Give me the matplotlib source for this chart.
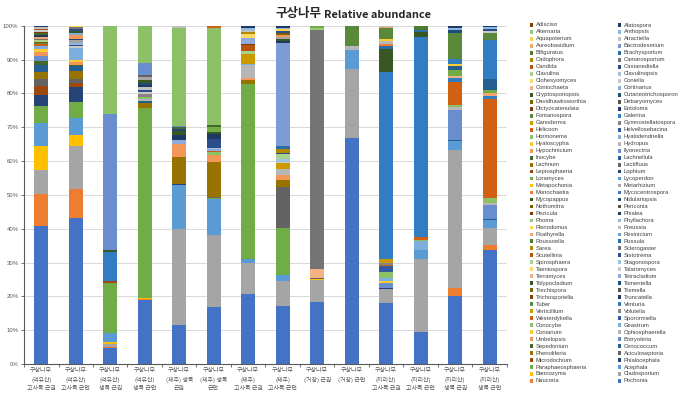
import colorsys
import numpy as np
import matplotlib
matplotlib.use("Agg")
import matplotlib.pyplot as plt
from matplotlib.patches import Rectangle
from matplotlib.ticker import FixedLocator

plt.rcParams['font.family'] = ['Noto Sans CJK KR', 'DejaVu Sans']

# ---------------- data ----------------
# series order: bottom of the stack first
genera = [
    "Pochonia", "Naucoria", "Cladosporium", "Bannozyma", "Acephala", "Paraphaeosphaeria",
    "Phialocephala", "Microdochium", "Aciculoseptoria", "Phenoliferia", "Cenococcum", "Sepedonium",
    "Botryotinia", "Umbelopsis", "Ophiosphaerella", "Coniarium", "Geastrum", "Conocybe",
    "Sporormiella", "Westerdykella", "Volutella", "Verticillium", "Venturia", "Tuber",
    "Truncatella", "Trichosporiella", "Tremella", "Trechispora", "Tomentella", "Tolypocladium",
    "Tetracladium", "Terramyces", "Talaromyces", "Taeniospora", "Stagonospora", "Spirosphaera",
    "Sistotrema", "Scutellinia", "Sclerogaster", "Sarea", "Russula", "Roussoella",
    "Resinicium", "Psathyrella", "Preussia", "Plenodomus", "Phyllachora", "Phoma",
    "Phialea", "Pezicula", "Periconia", "Nothomitra", "Nidulariopsis", "Mycopappus",
    "Mycocentrospora", "Monochaetia", "Metarhizium", "Metapochonia", "Lycoperdon", "Loramyces",
    "Lophium", "Leptosphaeria", "Lactifluus", "Lachnum", "Lachnellula", "Inocybe",
    "Ilyonectria", "Hypochnicium", "Hydropus", "Hyaloscypha", "Hyalodendriella", "Hormonema",
    "Helvellosebacina", "Helicoon", "Gymnostellatospora", "Ganoderma", "Galerina", "Fontanospora",
    "Entoloma", "Dictyocatenulata", "Debaryomyces", "Davidhawksworthia", "Cutaneotrichosporon", "Cryptosporiopsis",
    "Cortinarius", "Coniochaeta", "Coniella", "Clohesyomyces", "Clavulinopsis", "Clavulina",
    "Castanediella", "Candida", "Camarosporium", "Cadophora", "Brachysporium", "Bifiguratus",
    "Bactrodesmium", "Aureobasidium", "Atractiella", "Aquapoterium", "Anthopsis", "Alternaria",
    "Alatospora", "Adisciso",
]

sample_labels = [
    "구상나무\n(덕유산)\n고사목 근권", "구상나무\n(덕유산)\n고사목 근면",
    "구상나무\n(덕유산)\n생목 근권", "구상나무\n(덕유산)\n생목 근면",
    "구상나무\n(제주) 생목\n근권", "구상나무\n(제주) 생목\n근면",
    "구상나무\n(제주)\n고사목 근권", "구상나무\n(제주)\n고사목 근면",
    "구상나무\n(거창) 근권", "구상나무\n(거창) 근면",
    "구상나무\n(지리산)\n고사목 근권", "구상나무\n(지리산)\n고사목 근면",
    "구상나무\n(지리산)\n생목 근권", "구상나무\n(지리산)\n생목 근면",
]

deogyu_dead_rhizosphere = {
    "Pochonia": 40.8, "Naucoria": 9.5, "Cladosporium": 7.0, "Bannozyma": 7.2, "Acephala": 6.6,
    "Paraphaeosphaeria": 5.2, "Phialocephala": 3.3, "Microdochium": 2.6, "Aciculoseptoria": 2.0,
    "Phenoliferia": 2.1, "Cenococcum": 2.0, "Sepedonium": 1.2, "Botryotinia": 1.6, "Umbelopsis": 1.2,
    "Coniarium": 0.8, "Geastrum": 1.0, "Westerdykella": 0.4, "Tuber": 0.3, "Trechispora": 0.4,
    "Spirosphaera": 0.5, "Sclerogaster": 0.5, "Psathyrella": 0.5, "Phialea": 0.5, "Inocybe": 0.5,
    "Dictyocatenulata": 0.5, "Coniella": 0.5, "Candida": 0.4, "Atractiella": 0.4, "Alatospora": 0.5,
}
deogyu_dead_rhizoplane = {
    "Pochonia": 43.1, "Naucoria": 8.5, "Cladosporium": 12.6, "Bannozyma": 3.5, "Acephala": 4.9,
    "Paraphaeosphaeria": 4.8, "Phialocephala": 4.3, "Microdochium": 1.2, "Aciculoseptoria": 1.3,
    "Phenoliferia": 2.3, "Cenococcum": 1.3, "Sepedonium": 0.3, "Umbelopsis": 1.0, "Coniarium": 0.7,
    "Geastrum": 3.4, "Talaromyces": 0.6, "Sistotrema": 0.4, "Phyllachora": 0.6, "Metarhizium": 0.7,
    "Lophium": 0.5, "Hypochnicium": 1.2, "Hyalodendriella": 0.5, "Cryptosporiopsis": 0.5,
    "Castanediella": 0.6, "Camarosporium": 0.6, "Aquapoterium": 0.4,
}
deogyu_live_rhizosphere = {
    "Pochonia": 4.8, "Naucoria": 0.2, "Cladosporium": 0.8, "Bannozyma": 0.7, "Acephala": 2.6,
    "Paraphaeosphaeria": 14.9, "Microdochium": 0.5, "Venturia": 8.7, "Tolypocladium": 0.4,
    "Ilyonectria": 40.4, "Hormonema": 26.0,
}
deogyu_live_rhizoplane = {
    "Pochonia": 18.9, "Naucoria": 0.2, "Bannozyma": 0.4, "Paraphaeosphaeria": 56.2, "Phenoliferia": 1.5,
    "Cenococcum": 0.5, "Ophiosphaerella": 0.6, "Conocybe": 0.7, "Volutella": 0.7, "Talaromyces": 0.7,
    "Sistotrema": 0.7, "Preussia": 0.7, "Phialea": 0.7, "Nidulariopsis": 0.7, "Mycopappus": 0.8,
    "Metarhizium": 0.7, "Lactifluus": 0.6, "Ilyonectria": 3.8, "Hormonema": 10.9,
}
jeju_live_rhizosphere = {
    "Pochonia": 11.5, "Cladosporium": 28.3, "Acephala": 13.0, "Phialocephala": 0.3, "Phenoliferia": 8.0,
    "Umbelopsis": 3.9, "Tetracladium": 1.2, "Phialea": 1.6, "Mycopappus": 1.2, "Lophium": 0.6,
    "Inocybe": 0.4, "Ilyonectria": 0.4, "Hormonema": 28.8, "Atractiella": 0.8,
}
jeju_live_rhizoplane = {
    "Pochonia": 16.8, "Cladosporium": 21.3, "Acephala": 10.7, "Paraphaeosphaeria": 0.3,
    "Aciculoseptoria": 0.2, "Phenoliferia": 10.5, "Umbelopsis": 2.0, "Conocybe": 1.0,
    "Westerdykella": 0.2, "Tetracladium": 0.6, "Stagonospora": 0.3, "Sistotrema": 2.5, "Phialea": 1.5,
    "Mycopappus": 0.6, "Loramyces": 1.6, "Inocybe": 0.6, "Hormonema": 28.6, "Helicoon": 0.7,
}
jeju_dead_rhizosphere = {
    "Pochonia": 20.7, "Cladosporium": 9.3, "Acephala": 1.1, "Paraphaeosphaeria": 51.7, "Phenoliferia": 1.2,
    "Umbelopsis": 0.6, "Ophiosphaerella": 3.7, "Geastrum": 0.5, "Verticillium": 2.7, "Spirosphaera": 0.9,
    "Scutellinia": 1.8, "Pezicula": 0.4, "Cortinarius": 1.8, "Clohesyomyces": 1.0, "Cadophora": 0.8,
    "Atractiella": 0.4, "Anthopsis": 0.6, "Alatospora": 0.8,
}
jeju_dead_rhizoplane = {
    "Pochonia": 17.1, "Cladosporium": 7.4, "Acephala": 1.8, "Paraphaeosphaeria": 14.0,
    "Aciculoseptoria": 12.1, "Phenoliferia": 2.0, "Umbelopsis": 1.5, "Ophiosphaerella": 1.7,
    "Verticillium": 1.7, "Talaromyces": 0.5, "Stagonospora": 0.8, "Spirosphaera": 1.5, "Sistotrema": 0.4,
    "Sarea": 1.2, "Russula": 0.6, "Resinicium": 30.7, "Phialea": 0.4, "Mycopappus": 0.7,
    "Metarhizium": 0.5, "Hypochnicium": 0.7, "Davidhawksworthia": 0.5, "Castanediella": 0.5,
    "Aquapoterium": 0.6, "Anthopsis": 0.5, "Alatospora": 0.6,
}
geochang_rhizosphere = {
    "Pochonia": 18.4, "Cladosporium": 6.4, "Bannozyma": 0.3, "Aciculoseptoria": 0.4, "Terramyces": 2.6,
    "Sclerogaster": 70.7, "Phoma": 0.6, "Loramyces": 0.6,
}
geochang_rhizoplane = {
    "Pochonia": 66.7, "Cladosporium": 20.5, "Acephala": 5.6, "Ophiosphaerella": 1.2, "Tuber": 6.0,
}
jiri_dead_rhizosphere = {
    "Pochonia": 17.9, "Cladosporium": 4.2, "Phialocephala": 0.4, "Botryotinia": 1.3, "Coniarium": 0.7,
    "Geastrum": 0.8, "Conocybe": 2.0, "Sporormiella": 1.6, "Westerdykella": 0.5, "Volutella": 0.5,
    "Verticillium": 1.1, "Venturia": 55.4, "Tolypocladium": 6.7, "Russula": 0.9, "Monochaetia": 0.5,
    "Hydropus": 1.0, "Hyaloscypha": 0.6, "Fontanospora": 3.1, "Aureobasidium": 0.4, "Atractiella": 0.4,
}
jiri_dead_rhizoplane = {
    "Pochonia": 9.5, "Cladosporium": 21.5, "Acephala": 2.7, "Geastrum": 2.7, "Conocybe": 0.4,
    "Westerdykella": 0.8, "Venturia": 59.0, "Tolypocladium": 1.6, "Russula": 0.5, "Roussoella": 1.3,
}
jiri_live_rhizosphere = {
    "Pochonia": 20.1, "Naucoria": 2.5, "Cladosporium": 40.7, "Acephala": 2.6, "Cenococcum": 0.4,
    "Botryotinia": 8.9, "Ophiosphaerella": 0.7, "Conocybe": 0.7, "Westerdykella": 6.8, "Venturia": 1.2,
    "Terramyces": 0.6, "Loramyces": 1.6, "Lachnellula": 1.4, "Hyaloscypha": 0.5, "Galerina": 1.4,
    "Fontanospora": 7.8, "Cutaneotrichosporon": 0.9, "Anthopsis": 0.6, "Alatospora": 0.6,
}
jiri_live_rhizoplane = {
    "Pochonia": 33.7, "Naucoria": 1.5, "Cladosporium": 5.1, "Acephala": 2.3, "Cenococcum": 0.4,
    "Botryotinia": 4.0, "Ophiosphaerella": 0.5, "Conocybe": 1.5, "Westerdykella": 29.4, "Venturia": 0.8,
    "Psathyrella": 1.0, "Loramyces": 0.7, "Lachnellula": 3.3, "Galerina": 11.6, "Fontanospora": 2.1,
    "Coniella": 0.5, "Castanediella": 0.6, "Anthopsis": 0.5, "Alatospora": 0.5,
}

samples = [
    deogyu_dead_rhizosphere, deogyu_dead_rhizoplane, deogyu_live_rhizosphere, deogyu_live_rhizoplane,
    jeju_live_rhizosphere, jeju_live_rhizoplane, jeju_dead_rhizosphere, jeju_dead_rhizoplane,
    geochang_rhizosphere, geochang_rhizoplane, jiri_dead_rhizosphere, jiri_dead_rhizoplane,
    jiri_live_rhizosphere, jiri_live_rhizoplane,
]

# ---------------- colours (Office-style series palette) ----------------
base_colors = ['#4472C4', '#ED7D31', '#A5A5A5', '#FFC000', '#5B9BD5', '#70AD47']
variations = [(1.0, 0.0), (0.6, 0.0), (0.8, 0.2), (0.8, 0.0), (0.5, 0.0),
              (0.6, 0.4), (0.7, 0.0), (0.7, 0.3), (0.5, 0.0)]


def shade(hexcol, mod, off):
    r, g, b = [int(hexcol[i:i + 2], 16) / 255 for i in (1, 3, 5)]
    h, l, s = colorsys.rgb_to_hls(r, g, b)
    l = min(1.0, l * mod + off)
    return colorsys.hls_to_rgb(h, l, s)


colors = []
for i in range(len(genera)):
    mod, off = variations[(i // 6) % len(variations)]
    colors.append(shade(base_colors[i % 6], mod, off))

# ---------------- figure ----------------
W, H = 689, 408
fig = plt.figure(figsize=(W / 100, H / 100), dpi=100)
ax = fig.add_axes([24 / W, 44 / H, 483 / W, (364 - 25.7) / H])

x = np.arange(len(samples))
matrix = np.array([[s.get(g, 0.0) for s in samples] for g in genera])
matrix = matrix / matrix.sum(axis=0, keepdims=True)
bottom = np.zeros(len(samples))
for i, g in enumerate(genera):
    ax.bar(x, matrix[i], bottom=bottom, width=0.4, color=colors[i], linewidth=0, zorder=2)
    bottom += matrix[i]

ax.set_xlim(-0.5, len(samples) - 0.5)
ax.set_ylim(0, 1)
yt = np.arange(0, 1.001, 0.1)
ax.set_yticks(yt)
ax.set_yticklabels([f"{int(round(v * 100))}%" for v in yt], fontsize=4.3,
                   color='#595959', family='Liberation Sans')
ax.yaxis.grid(True, color='#D9D9D9', linewidth=0.7, zorder=0)
ax.set_axisbelow(True)
ax.tick_params(axis='y', length=2.5, width=0.6, color='#595959', pad=1.5)

ax.set_xticks(x)
ax.set_xticklabels(sample_labels, fontsize=4.3, color='#595959', linespacing=1.75)
ax.tick_params(axis='x', which='major', length=0, pad=3)
ax.xaxis.set_minor_locator(FixedLocator(np.arange(-0.5, len(samples), 1.0)))
ax.tick_params(axis='x', which='minor', length=2.5, width=0.6, color='#595959')

for side in ('top', 'right'):
    ax.spines[side].set_visible(False)
for side in ('left', 'bottom'):
    ax.spines[side].set_color('#595959')
    ax.spines[side].set_linewidth(0.8)

# title: Korean part slightly larger than the Latin part, as in the reference
fig.text(321 / W, 1 - 17.5 / H, "구상나무", ha='right', va='baseline',
         fontsize=9, fontweight='bold', color='#262626')
fig.text(323.5 / W, 1 - 17.5 / H, "Relative abundance", ha='left', va='baseline',
         fontsize=7.9, fontweight='bold', color='#262626')

# legend: Excel-style, reversed series order, filled row by row in two columns
n = len(genera)
rows = (n + 1) // 2
for r in range(rows):
    yc = 25 + r * 6.98
    for c, (sx, tx) in enumerate(((529.5, 535.5), (617.5, 623.5))):
        idx = n - 1 - (2 * r + c)
        if idx < 0:
            continue
        fig.patches.append(Rectangle((sx / W, 1 - (yc + 1.9) / H), 3.8 / W, 3.8 / H,
                                     transform=fig.transFigure, facecolor=colors[idx],
                                     edgecolor='none'))
        fig.text(tx / W, 1 - yc / H, genera[idx], ha='left', va='center', fontsize=4.2,
                 color='#404040', family='Liberation Sans')

fig.savefig("out.png", dpi=100)
